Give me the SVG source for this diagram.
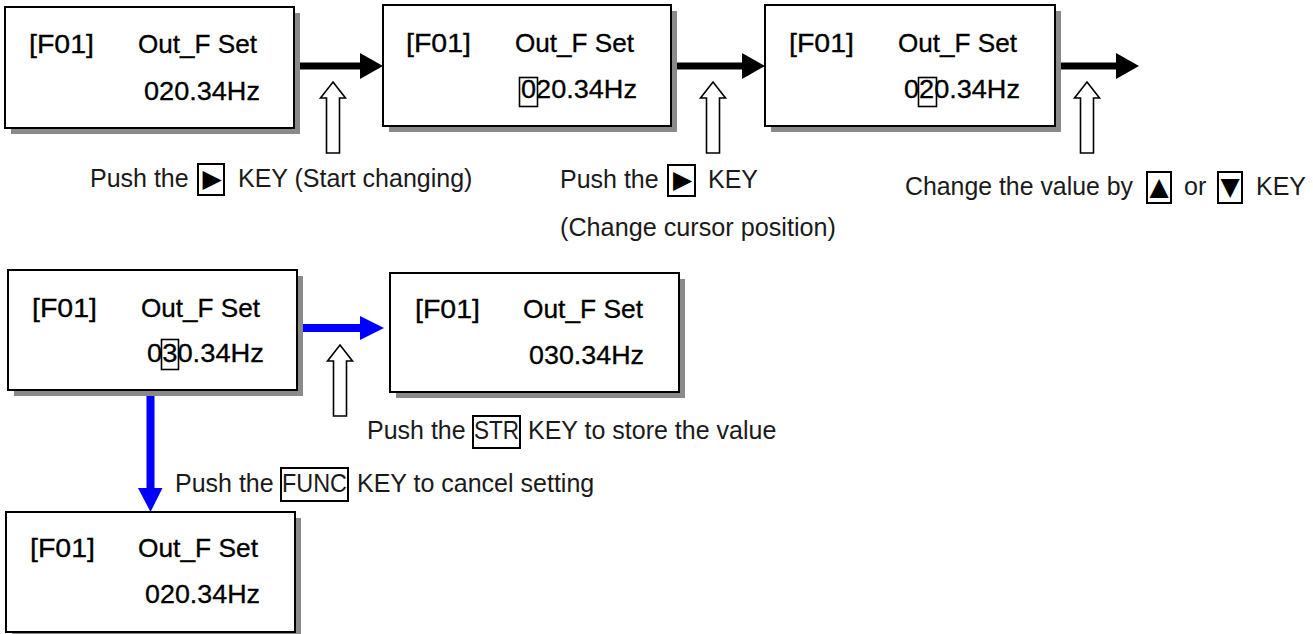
<svg xmlns="http://www.w3.org/2000/svg" width="1313" height="634" viewBox="0 0 1313 634">
<style>
.bt{font-family:"Liberation Sans",Arial,sans-serif;font-size:25px;fill:#000;stroke:#000;stroke-width:0.3}
.lb{font-family:"Liberation Sans",Arial,sans-serif;font-size:25px;fill:#1a1a1a}
.sym{font-family:"DejaVu Sans",sans-serif;font-size:25px;fill:#000;text-anchor:middle}
.box{fill:#fff;stroke:#000;stroke-width:2}
.sh{fill:#8a8a8a}
.cur{fill:none;stroke:#000;stroke-width:1.6}
.key{fill:none;stroke:#000;stroke-width:2}
.hollow{fill:#fff;stroke:#000;stroke-width:1.6;stroke-linejoin:miter}
.blk{stroke:#000;stroke-width:7}
.blu{stroke:#0000ff;stroke-width:8}
</style>
<defs>
<g id="hol"><polygon class="hollow" points="0,0 12.5,16 6.5,16 6.5,71 -6.5,71 -6.5,16 -12.5,16"/></g>
</defs>

<g id="connectors">
  <line class="blk" x1="300" y1="66" x2="362" y2="66"/>
  <polygon points="360,53 383,66 360,79" fill="#000"/>
  <line class="blk" x1="677" y1="66" x2="744" y2="66"/>
  <polygon points="742,53 765,66 742,79" fill="#000"/>
  <line class="blk" x1="1060" y1="66" x2="1118" y2="66"/>
  <polygon points="1116,53 1139,66 1116,79" fill="#000"/>
  <line class="blu" x1="302" y1="328" x2="362" y2="328"/>
  <polygon points="360,316 384,328 360,340" fill="#0000ff"/>
  <line class="blu" x1="150.5" y1="393" x2="150.5" y2="490"/>
  <polygon points="138,488 162.5,488 150.5,512" fill="#0000ff"/>
  <use href="#hol" x="333" y="82"/>
  <use href="#hol" x="713" y="82"/>
  <use href="#hol" x="1087" y="82"/>
  <use href="#hol" x="340" y="345"/>
</g>

<g id="n1">
  <rect class="sh" x="11" y="13" width="289" height="121"/>
  <rect class="box" x="5" y="7" width="289" height="121"/>
  <text class="bt" x="29" y="53" textLength="65" lengthAdjust="spacingAndGlyphs">[F01]</text>
  <text class="bt" x="138" y="53" textLength="119" lengthAdjust="spacingAndGlyphs">Out_F Set</text>
  <text class="bt" x="144" y="100" textLength="116" lengthAdjust="spacingAndGlyphs">020.34Hz</text>
</g>

<g id="n2">
  <rect class="sh" x="389" y="11" width="288" height="121"/>
  <rect class="box" x="383" y="5" width="288" height="121"/>
  <text class="bt" x="406" y="52" textLength="65" lengthAdjust="spacingAndGlyphs">[F01]</text>
  <text class="bt" x="515" y="52" textLength="119" lengthAdjust="spacingAndGlyphs">Out_F Set</text>
  <text class="bt" x="521" y="98" textLength="116" lengthAdjust="spacingAndGlyphs">020.34Hz</text>
  <rect class="cur" x="519.5" y="77.5" width="18" height="29"/>
</g>

<g id="n3">
  <rect class="sh" x="771" y="11" width="290" height="121"/>
  <rect class="box" x="765" y="5" width="290" height="121"/>
  <text class="bt" x="789" y="52" textLength="65" lengthAdjust="spacingAndGlyphs">[F01]</text>
  <text class="bt" x="898" y="52" textLength="119" lengthAdjust="spacingAndGlyphs">Out_F Set</text>
  <text class="bt" x="904" y="98" textLength="116" lengthAdjust="spacingAndGlyphs">020.34Hz</text>
  <rect class="cur" x="918.5" y="77.5" width="18" height="29"/>
</g>

<g id="n4">
  <rect class="sh" x="14" y="276" width="289" height="120"/>
  <rect class="box" x="8" y="270" width="289" height="120"/>
  <text class="bt" x="32" y="317" textLength="65" lengthAdjust="spacingAndGlyphs">[F01]</text>
  <text class="bt" x="141" y="317" textLength="119" lengthAdjust="spacingAndGlyphs">Out_F Set</text>
  <text class="bt" x="147" y="362" textLength="117" lengthAdjust="spacingAndGlyphs">030.34Hz</text>
  <rect class="cur" x="161.5" y="339.5" width="17" height="30"/>
</g>

<g id="n5">
  <rect class="sh" x="396" y="279" width="289" height="119"/>
  <rect class="box" x="390" y="273" width="289" height="119"/>
  <text class="bt" x="415" y="318" textLength="65" lengthAdjust="spacingAndGlyphs">[F01]</text>
  <text class="bt" x="523" y="318" textLength="120" lengthAdjust="spacingAndGlyphs">Out_F Set</text>
  <text class="bt" x="529" y="364" textLength="115" lengthAdjust="spacingAndGlyphs">030.34Hz</text>
</g>

<g id="n6">
  <rect class="sh" x="12" y="518" width="289" height="120"/>
  <rect class="box" x="6" y="512" width="289" height="120"/>
  <text class="bt" x="30" y="557" textLength="65" lengthAdjust="spacingAndGlyphs">[F01]</text>
  <text class="bt" x="138" y="557" textLength="120" lengthAdjust="spacingAndGlyphs">Out_F Set</text>
  <text class="bt" x="145" y="603" textLength="115" lengthAdjust="spacingAndGlyphs">020.34Hz</text>
</g>

<g id="label1">
  <text class="lb" x="90" y="187">Push the</text>
  <rect class="key" x="198" y="164" width="26" height="31"/>
  <text class="sym" x="212" y="187">▶</text>
  <text class="lb" x="238" y="187">KEY (Start changing)</text>
</g>

<g id="label2">
  <text class="lb" x="560" y="188">Push the</text>
  <rect class="key" x="668" y="165" width="27" height="31"/>
  <text class="sym" x="682.5" y="188">▶</text>
  <text class="lb" x="708" y="188">KEY</text>
  <text class="lb" x="560" y="236" textLength="276" lengthAdjust="spacingAndGlyphs">(Change cursor position)</text>
</g>

<g id="label3">
  <text class="lb" x="905" y="195" textLength="228" lengthAdjust="spacingAndGlyphs">Change the value by</text>
  <rect class="key" x="1147" y="172" width="24" height="31"/>
  <text class="sym" x="1159" y="195">▲</text>
  <text class="lb" x="1184" y="195">or</text>
  <rect class="key" x="1218" y="172" width="24" height="31"/>
  <text class="sym" x="1230" y="195">▼</text>
  <text class="lb" x="1256" y="195">KEY</text>
</g>

<g id="label4">
  <text class="lb" x="367" y="439">Push the</text>
  <rect class="key" x="473" y="416" width="47" height="32"/>
  <text class="lb" x="474" y="439" textLength="45" lengthAdjust="spacingAndGlyphs">STR</text>
  <text class="lb" x="528" y="439">KEY to store the value</text>
</g>

<g id="label5">
  <text class="lb" x="175" y="492">Push the</text>
  <rect class="key" x="281" y="468" width="67" height="33"/>
  <text class="lb" x="282" y="492" textLength="65" lengthAdjust="spacingAndGlyphs">FUNC</text>
  <text class="lb" x="357" y="492">KEY to cancel setting</text>
</g>
</svg>
